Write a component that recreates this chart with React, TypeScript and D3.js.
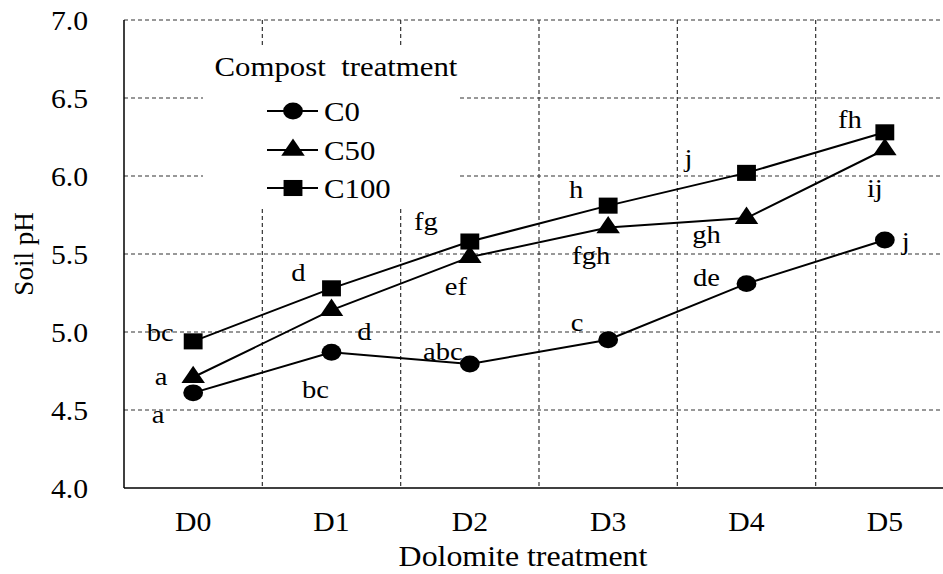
import React from "react";
import * as d3 from "d3";

const categories = ["D0", "D1", "D2", "D3", "D4", "D5"];
const seriesNames = ["C0", "C50", "C100"];
const c0Values = [4.61, 4.87, 4.795, 4.95, 5.31, 5.59];
const c50Values = [4.71, 5.14, 5.48, 5.67, 5.73, 6.17];
const c100Values = [4.94, 5.28, 5.58, 5.81, 6.02, 6.28];
const c0Letters = ["a", "bc", "abc", "c", "de", "j"];
const c50Letters = ["a", "d", "ef", "fgh", "gh", "ij"];
const c100Letters = ["bc", "d", "fg", "h", "j", "fh"];
const yTicks = [4.0, 4.5, 5.0, 5.5, 6.0, 6.5, 7.0];

// layout offsets (px) of significance letters relative to their point
const c0Off = [[-35, 30], [-16, 46], [-27, -4], [-31, -9], [-40, 2], [21, 10]];
const c50Off = [[-32, 8], [33, 30], [-14, 38], [-17, 37], [-40, 25], [-10, 48]];
const c100Off = [[-33, 0], [-33, -7], [-44, -12], [-32, -8], [-58, -6], [-35, -4]];

const W = 943;
const H = 574;
const left = 124;
const right = 954;
const top = 20;
const bottom = 488;
const FONT = "'Liberation Serif', 'Times New Roman', serif";
const SX = 1.1;

const x = d3.scaleBand<string>().domain(categories).range([left, right]).padding(0);
const y = d3.scaleLinear().domain([4, 7]).range([bottom, top]);
const cx = (c: string) => (x(c) as number) + x.bandwidth() / 2;

const shapes = [d3.symbolCircle, d3.symbolTriangle, d3.symbolSquare];
const sizes = [265, 205, 305];

function Marker({ i, px, py }: { i: number; px: number; py: number }) {
  const p = d3.symbol().type(shapes[i]).size(sizes[i])() as string;
  return <path d={p} transform={`translate(${px},${py}) scale(1.08,0.92)`} fill="#000" />;
}

function T({ x0, y0, s, size, anchor = "middle" }: any) {
  return (
    <text
      transform={`translate(${x0},${y0}) scale(${SX},1)`}
      textAnchor={anchor}
      fontFamily={FONT}
      fontSize={size}
      fill="#000"
    >
      {s}
    </text>
  );
}

export default function App() {
  const series = [c0Values, c50Values, c100Values];
  const letters = [c0Letters, c50Letters, c100Letters];
  const offs = [c0Off, c50Off, c100Off];
  const line = d3
    .line<number>()
    .x((_, i) => cx(categories[i]))
    .y((v) => y(v));
  const grid = "#333";
  const dash = "4,3";
  return (
    <svg width={W} height={H} style={{ position: "absolute", left: 0, top: 0, background: "#fff" }}>
      <rect x={0} y={0} width={W} height={H} fill="#fff" />
      {yTicks.slice(1).map((t) => (
        <line key={"h" + t} x1={left} x2={right} y1={y(t)} y2={y(t)} stroke={grid} strokeWidth={1.2} strokeDasharray={dash} />
      ))}
      {categories.slice(1).map((c) => (
        <line key={"v" + c} x1={x(c)} x2={x(c)} y1={top} y2={bottom} stroke={grid} strokeWidth={1.2} strokeDasharray={dash} />
      ))}
      <line x1={left} x2={left} y1={top} y2={bottom} stroke="#000" strokeWidth={1.5} />
      <line x1={left} x2={right} y1={bottom} y2={bottom} stroke="#000" strokeWidth={1.5} />
      {yTicks.map((t) => (
        <T key={"yt" + t} x0={88} y0={y(t) + 9.5} s={t.toFixed(1)} size={27} anchor="end" />
      ))}
      {categories.map((c) => (
        <T key={"xt" + c} x0={cx(c)} y0={531} s={c} size={27} />
      ))}
      <T x0={523} y0={566} s="Dolomite treatment" size={29} />
      <text
        transform={`translate(33,254) rotate(-90)`}
        textAnchor="middle"
        fontFamily={FONT}
        fontSize={27}
        fill="#000"
      >
        Soil pH
      </text>
      <rect x={205} y={45} width={262} height={43} fill="#fff" />
      <rect x={203} y={90} width={254} height={117} fill="#fff" />
      <T x0={336} y0={76} s={"Compost\u00a0\u00a0treatment"} size={28} />
      {seriesNames.map((n, i) => {
        const ly = [111, 150, 188][i];
        return (
          <g key={"lg" + n}>
            <line x1={267} x2={318} y1={ly} y2={ly} stroke="#000" strokeWidth={2} />
            <Marker i={i} px={293} py={ly} />
            <T x0={324} y0={ly + 9.5} s={n} size={28} anchor="start" />
          </g>
        );
      })}
      {series.map((vals, si) => (
        <g key={"s" + si}>
          <path d={line(vals) as string} fill="none" stroke="#000" strokeWidth={2} />
          {vals.map((v, i) => (
            <Marker key={i} i={si} px={cx(categories[i])} py={y(v)} />
          ))}
          {vals.map((v, i) => (
            <T
              key={"l" + i}
              x0={cx(categories[i]) + offs[si][i][0]}
              y0={y(v) + offs[si][i][1]}
              s={letters[si][i]}
              size={26}
            />
          ))}
        </g>
      ))}
    </svg>
  );
}
